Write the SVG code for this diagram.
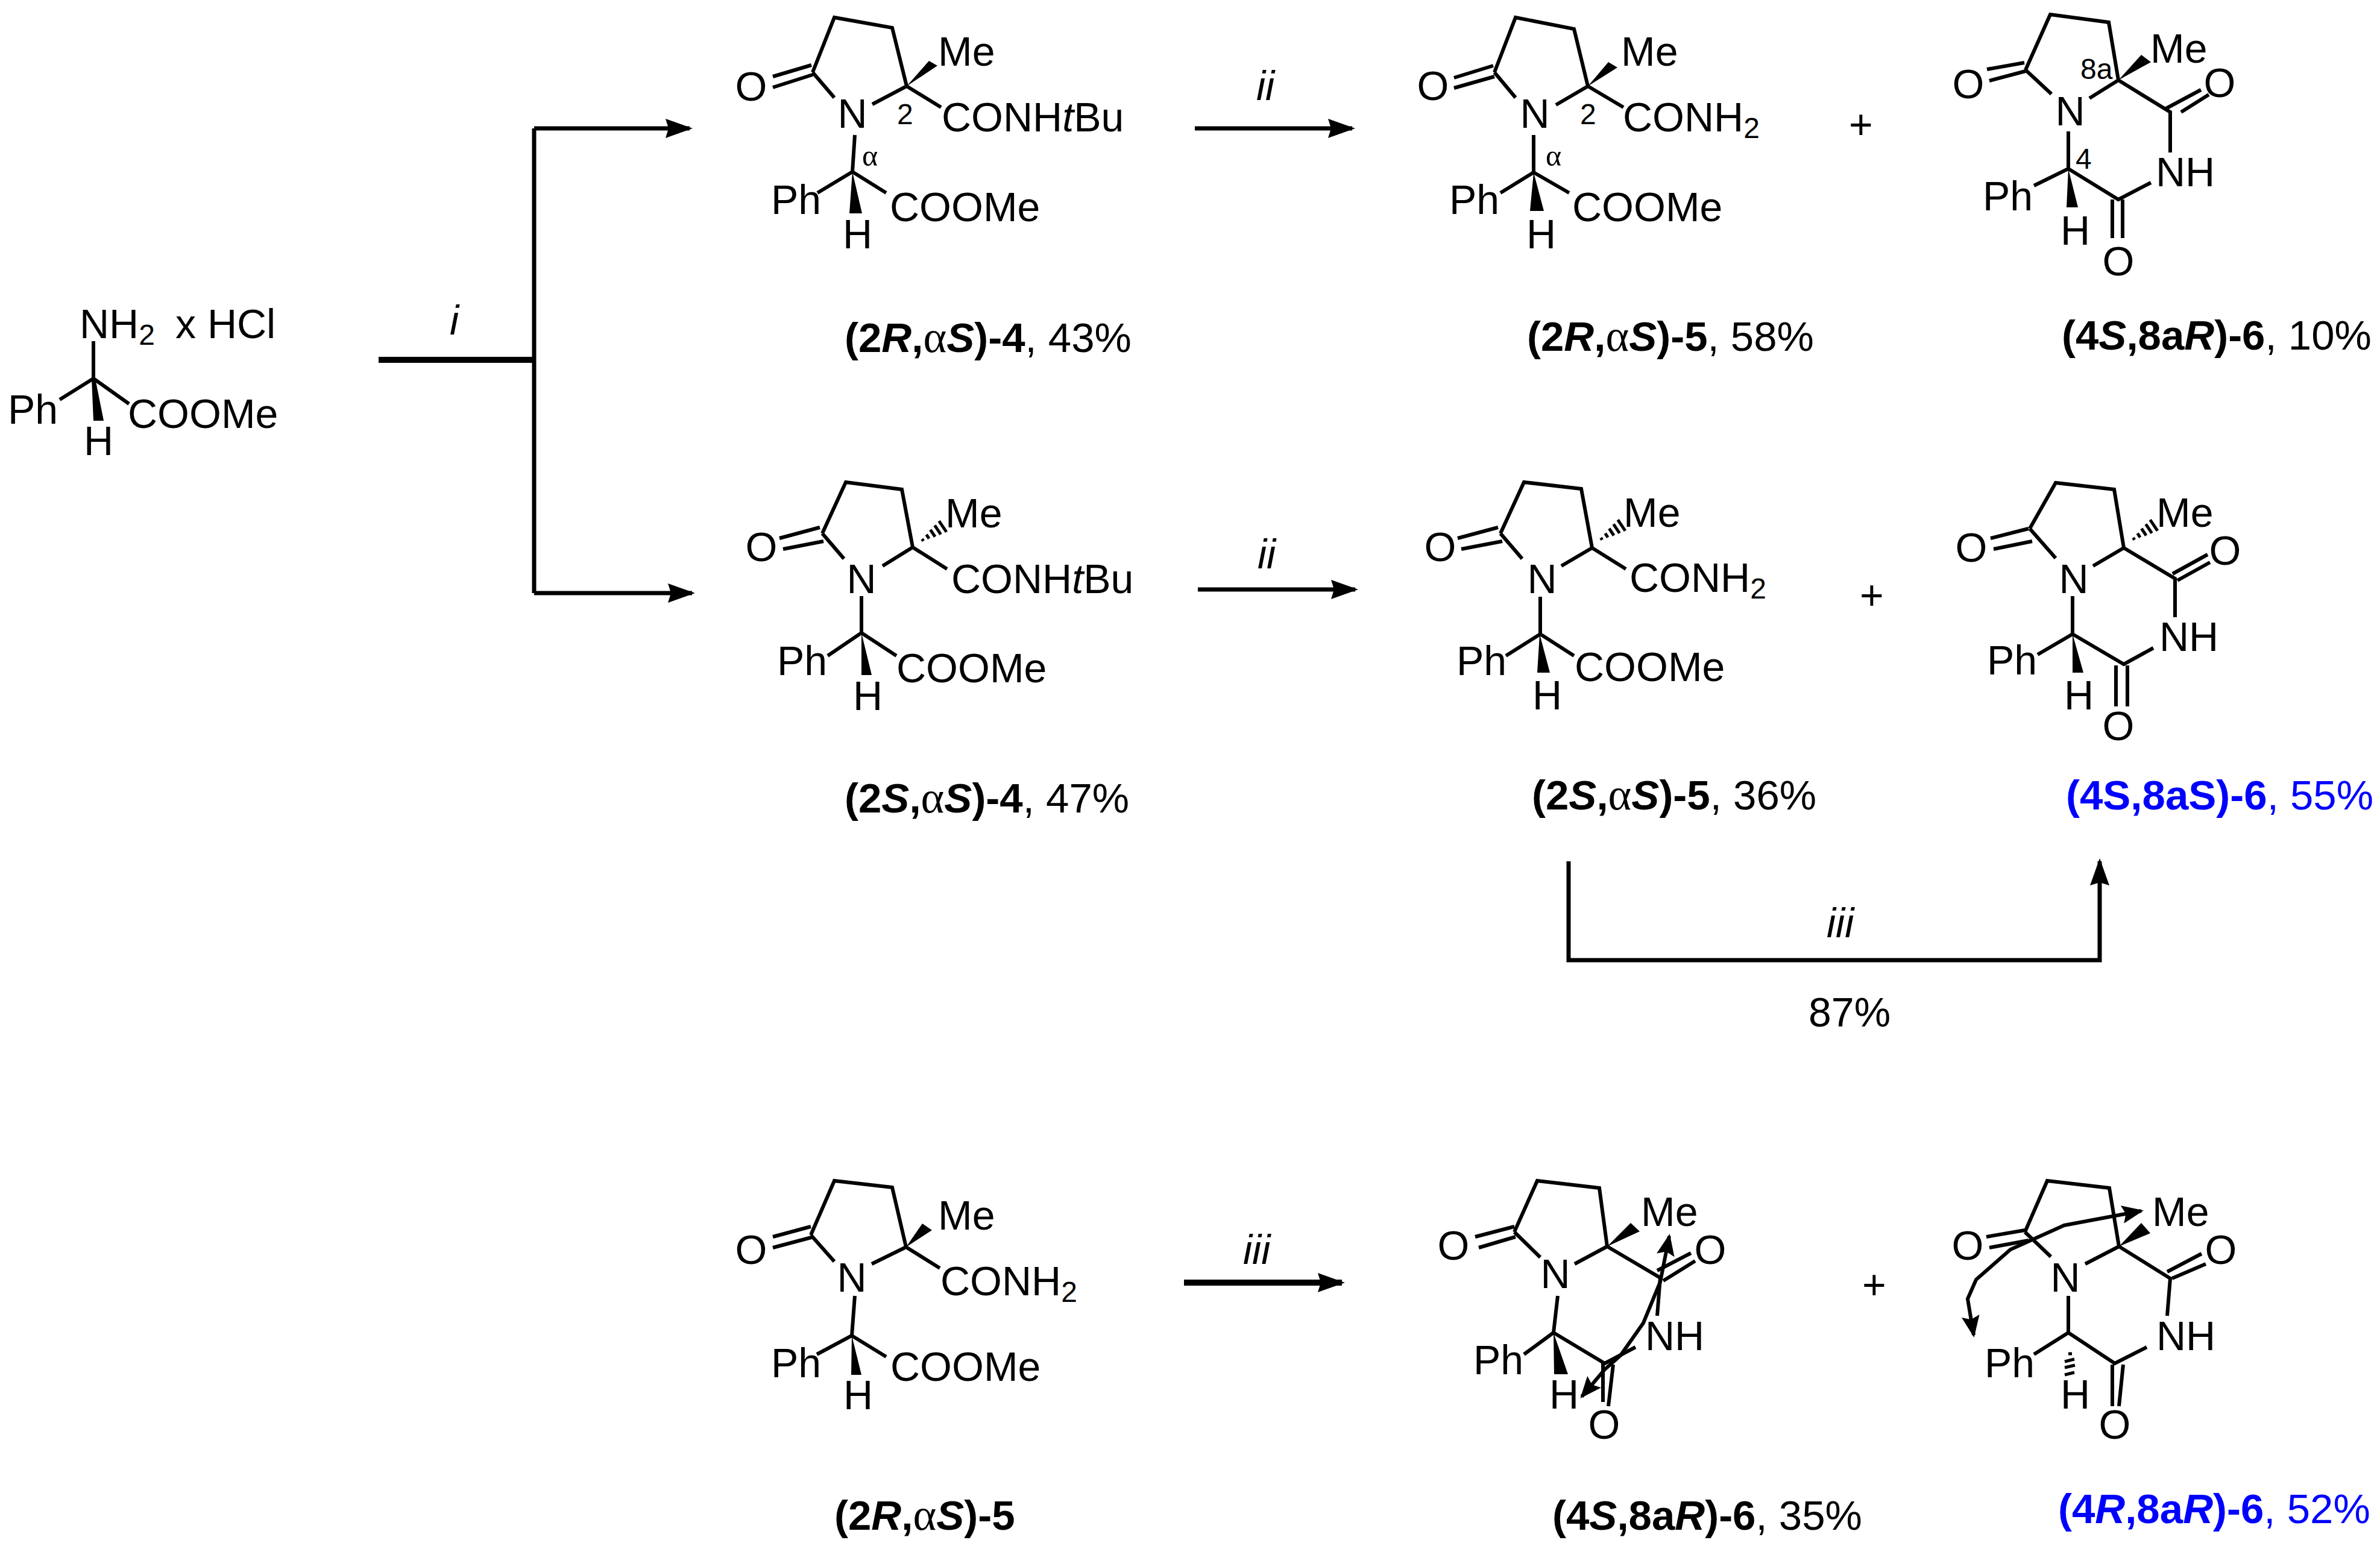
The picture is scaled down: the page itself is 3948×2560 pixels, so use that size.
<svg xmlns="http://www.w3.org/2000/svg" xmlns:xlink="http://www.w3.org/1999/xlink" width="3948" height="2560" viewBox="0 0 3948 2560">
<style>
text{font-family:"Liberation Sans",Arial,sans-serif;font-size:68px;fill:#000}
.b{stroke:#000;stroke-width:6;fill:none;stroke-linecap:butt;stroke-linejoin:miter}
.w{fill:#000;stroke:none}
.s{font-size:48px}
.g{font-family:"Liberation Serif",serif;font-size:50px}
.a{font-family:"Liberation Serif",serif;font-weight:normal;font-size:74px}
.l{font-size:69px}
.bd{font-weight:bold}
.it{font-style:italic}
.blue,.blue tspan{fill:#0000ff}
.r{stroke:#000;stroke-width:7;fill:none}
</style>
<defs>
<marker id="ah" viewBox="0 0 45 32" refX="40" refY="16" markerWidth="45" markerHeight="32" markerUnits="userSpaceOnUse" orient="auto-start-reverse"><path d="M0,0 L45,16 L0,32 L5,16z" fill="#000"/></marker>
<marker id="ac" viewBox="0 0 36 30" refX="32" refY="15" markerWidth="36" markerHeight="30" markerUnits="userSpaceOnUse" orient="auto-start-reverse"><path d="M0,0 L36,15 L0,30 L6,15z" fill="#000"/></marker>
<g id="h"><path class="b" d="M2,-2V2M12,-4V4M22,-7V7M32,-9V9M42,-11V11" style="stroke-width:5"/></g>
</defs>

<g id="connectors">
<path class="r" d="M628,597H886" style="stroke-width:10"/>
<path class="r" d="M886,213V984"/>
<path class="r" marker-end="url(#ah)" d="M886,213H1144"/>
<path class="r" marker-end="url(#ah)" d="M886,984H1148"/>
<path class="r" marker-end="url(#ah)" d="M1982,213H2243"/>
<path class="r" marker-end="url(#ah)" d="M1987,978H2248"/>
<path class="r" marker-end="url(#ah)" d="M1964,2128H2226" style="stroke-width:10"/>
<path class="r" marker-end="url(#ah)" d="M2602,1429V1593H3483V1429"/>
<text x="746" y="555" class="it">i</text>
<text x="2084" y="166" class="it">ii</text>
<text x="2086" y="943" class="it">ii</text>
<text x="2062" y="2097" class="it">iii</text>
<text x="3030" y="1555" class="it">iii</text>
<text x="3000" y="1703">87%</text>
<text x="3067" y="230">+</text>
<text x="3085" y="1011">+</text>
<text x="3089" y="2155">+</text>
</g>

<g id="glycine">
<path class="b" d="M155,566V628M155,628L99,663M155,628L214,670"/>
<path class="w" d="M152,628L155,698H172L158,628Z"/>
<text x="132" y="561">NH<tspan class="s" dy="11">2</tspan></text>
<text x="291" y="561">x HCl</text>
<text x="13" y="703">Ph</text>
<text x="212" y="710">COOMe</text>
<text x="139" y="755">H</text>
</g>

<g id="m-2R-aS-4">
<path class="b" d="M1348,120L1384,29L1480,46L1504,143L1447,173M1348,120L1384,162M1282,127L1346,108M1282,145L1348,124M1504,143L1561,178M1418,224L1414,285L1356,320M1414,285L1470,320"/>
<path class="w" d="M1504,143L1541,101L1555,109Z"/>
<path class="w" d="M1414,285L1409,354L1430,354Z"/>
<text x="1246" y="167" text-anchor="middle">O</text>
<text x="1414" y="212" text-anchor="middle">N</text>
<text x="1556" y="109">Me</text>
<text x="1488" y="206" class="s">2</text>
<text x="1562" y="218">CONH<tspan class="it">t</tspan>Bu</text>
<text x="1430" y="275" class="g">α</text>
<text x="1279" y="355">Ph</text>
<text x="1476" y="367">COOMe</text>
<text x="1398" y="412">H</text>
<text x="1401" y="584" class="l"><tspan class="bd">(2</tspan><tspan class="bd it">R</tspan><tspan class="bd">,</tspan><tspan class="a">α</tspan><tspan class="bd it">S</tspan><tspan class="bd">)-4</tspan>, 43%</text>
</g>

<g id="m-2R-aS-5">
<path class="b" d="M2479,120L2514,29L2611,48L2634,143L2581,174M2479,120L2514,162M2412,129L2477,109M2412,146L2479,127M2634,143L2693,178M2544,224V286L2489,320M2544,286L2603,320"/>
<path class="w" d="M2634,143L2668,103L2683,112Z"/>
<path class="w" d="M2544,286L2538,350L2561,350Z"/>
<text x="2377" y="166" text-anchor="middle">O</text>
<text x="2546" y="212" text-anchor="middle">N</text>
<text x="2689" y="109">Me</text>
<text x="2621" y="206" class="s">2</text>
<text x="2692" y="218">CONH<tspan class="s" dy="11">2</tspan></text>
<text x="2564" y="275" class="g">α</text>
<text x="2404" y="355">Ph</text>
<text x="2608" y="367">COOMe</text>
<text x="2532" y="412">H</text>
<text x="2533" y="582" class="l"><tspan class="bd">(2</tspan><tspan class="bd it">R</tspan><tspan class="bd">,</tspan><tspan class="a">α</tspan><tspan class="bd it">S</tspan><tspan class="bd">)-5</tspan>, 58%</text>
</g>

<g id="m-4S-8aR-6-a">
<path class="b" d="M3360,116L3401,24L3498,37L3514,133L3466,163M3360,116L3403,156M3296,115L3358,104M3300,134L3360,118M3514,133L3600,186V253M3593,180L3651,149M3618,186L3664,157M3431,218V280L3374,308M3431,280L3514,331L3568,303M3504,331V395M3521,331V395"/>
<path class="w" d="M3514,133L3552,91L3568,103Z"/>
<path class="w" d="M3431,280L3428,344L3447,344Z"/>
<text x="3265" y="163" text-anchor="middle">O</text>
<text x="3434" y="208" text-anchor="middle">N</text>
<text x="3567" y="104">Me</text>
<text x="3451" y="131" class="s">8a</text>
<text x="3682" y="161" text-anchor="middle">O</text>
<text x="3576" y="309">NH</text>
<text x="3443" y="280" class="s">4</text>
<text x="3289" y="349">Ph</text>
<text x="3418" y="406">H</text>
<text x="3514" y="457" text-anchor="middle">O</text>
<text x="3420" y="580" class="l"><tspan class="bd">(4</tspan><tspan class="bd it">S</tspan><tspan class="bd">,8a</tspan><tspan class="bd it">R</tspan><tspan class="bd">)-6</tspan>, 10%</text>
</g>

<g id="m-2S-aS-4">
<path class="b" d="M1364,885L1403,800L1496,812L1514,908L1464,939M1364,885L1400,927M1293,893L1360,875M1299,911L1366,898M1514,908L1571,944M1429,989V1050L1373,1088M1429,1050L1487,1088"/>
<use href="#h" xlink:href="#h" transform="translate(1529,897) rotate(-34)"/>
<path class="w" d="M1429,1050L1429,1120L1446,1120Z"/>
<text x="1263" y="931" text-anchor="middle">O</text>
<text x="1429" y="984" text-anchor="middle">N</text>
<text x="1568" y="875">Me</text>
<text x="1578" y="984">CONH<tspan class="it">t</tspan>Bu</text>
<text x="1289" y="1120">Ph</text>
<text x="1487" y="1132">COOMe</text>
<text x="1415" y="1178">H</text>
<text x="1401" y="1348" class="l"><tspan class="bd">(2</tspan><tspan class="bd it">S</tspan><tspan class="bd">,</tspan><tspan class="a">α</tspan><tspan class="bd it">S</tspan><tspan class="bd">)-4</tspan>, 47%</text>
</g>

<g id="m-2S-aS-5">
<path class="b" d="M2489,885L2528,800L2623,811L2641,909L2590,939M2489,885L2525,927M2418,893L2485,875M2424,911L2492,898M2641,909L2697,944M2555,990V1052L2498,1088M2555,1052L2611,1088"/>
<use href="#h" xlink:href="#h" transform="translate(2655,895) rotate(-34)"/>
<path class="w" d="M2554,1052L2550,1116L2571,1116Z"/>
<text x="2389" y="931" text-anchor="middle">O</text>
<text x="2558" y="984" text-anchor="middle">N</text>
<text x="2693" y="874">Me</text>
<text x="2703" y="982">CONH<tspan class="s" dy="11">2</tspan></text>
<text x="2416" y="1120">Ph</text>
<text x="2612" y="1130">COOMe</text>
<text x="2542" y="1177">H</text>
<text x="2541" y="1343" class="l"><tspan class="bd">(2</tspan><tspan class="bd it">S</tspan><tspan class="bd">,</tspan><tspan class="a">α</tspan><tspan class="bd it">S</tspan><tspan class="bd">)-5</tspan>, 36%</text>
</g>

<g id="m-4S-8aS-6">
<path class="b" d="M3367,877L3410,801L3507,812L3523,909L3472,939M3367,877L3410,926M3302,893L3365,877M3307,911L3371,898M3523,909L3608,960V1024M3604,952L3662,920M3612,963L3666,933M3438,989V1052L3380,1086M3438,1052L3523,1102L3572,1075M3510,1104V1172M3529,1104V1172"/>
<use href="#h" xlink:href="#h" transform="translate(3538,895) rotate(-34)"/>
<path class="w" d="M3438,1052L3438,1116L3456,1116Z"/>
<text x="3270" y="932" text-anchor="middle">O</text>
<text x="3440" y="984" text-anchor="middle">N</text>
<text x="3577" y="874">Me</text>
<text x="3691" y="937" text-anchor="middle">O</text>
<text x="3582" y="1080">NH</text>
<text x="3296" y="1119">Ph</text>
<text x="3424" y="1177">H</text>
<text x="3514" y="1228" text-anchor="middle">O</text>
<text x="3427" y="1343" class="l blue"><tspan class="bd">(4S,8aS)-6</tspan>, 55%</text>
</g>

<g id="m-2R-aS-5b">
<path class="b" d="M1345,2049L1384,1959L1480,1970L1503,2069L1446,2097M1345,2049L1384,2093M1282,2052L1345,2035M1282,2070L1346,2053M1503,2069L1559,2104M1418,2150L1413,2216L1355,2247M1413,2216L1470,2251"/>
<path class="w" d="M1503,2069L1530,2030L1546,2041Z"/>
<path class="w" d="M1413,2216L1412,2281L1429,2281Z"/>
<text x="1246" y="2097" text-anchor="middle">O</text>
<text x="1413" y="2143" text-anchor="middle">N</text>
<text x="1556" y="2040">Me</text>
<text x="1560" y="2149">CONH<tspan class="s" dy="11">2</tspan></text>
<text x="1279" y="2285">Ph</text>
<text x="1477" y="2291">COOMe</text>
<text x="1399" y="2338">H</text>
<text x="1384" y="2538" class="l"><tspan class="bd">(2</tspan><tspan class="bd it">R</tspan><tspan class="bd">,</tspan><tspan class="a">α</tspan><tspan class="bd it">S</tspan><tspan class="bd">)-5</tspan></text>
</g>

<g id="m-4S-8aR-6-b">
<path class="b" d="M2512,2044L2550,1959L2653,1971L2666,2068L2612,2097M2512,2044L2555,2086M2447,2052L2512,2035M2453,2070L2514,2052M2666,2068L2754,2120L2749,2183M2749,2108L2805,2079M2759,2125L2812,2092M2584,2150L2577,2211L2528,2247M2577,2211L2662,2262L2713,2235M2659,2262V2326M2676,2264L2668,2333"/>
<path class="w" d="M2666,2068L2705,2029L2720,2043Z"/>
<path class="w" d="M2577,2211L2578,2280L2601,2280Z"/>
<text x="2411" y="2090" text-anchor="middle">O</text>
<text x="2580" y="2137" text-anchor="middle">N</text>
<text x="2722" y="2034">Me</text>
<text x="2837" y="2097" text-anchor="middle">O</text>
<text x="2729" y="2240">NH</text>
<text x="2444" y="2280">Ph</text>
<text x="2570" y="2337">H</text>
<text x="2661" y="2387" text-anchor="middle">O</text>
<text x="2575" y="2538" class="l"><tspan class="bd">(4</tspan><tspan class="bd it">S</tspan><tspan class="bd">,8a</tspan><tspan class="bd it">R</tspan><tspan class="bd">)-6</tspan>, 35%</text>
</g>

<g id="m-4R-8aR-6">
<path class="b" d="M3359,2044L3396,1959L3499,1971L3515,2068L3459,2097M3359,2044L3402,2085M3295,2052L3359,2041M3300,2070L3365,2058M3515,2068L3600,2121L3595,2183M3595,2110L3652,2080M3603,2121L3659,2097M3431,2150V2211L3374,2247M3431,2211L3508,2262L3561,2235M3504,2264V2333M3522,2264L3515,2333"/>
<path class="w" d="M3515,2068L3552,2029L3567,2046Z"/>
<path class="b" style="stroke-width:5" d="M3431,2246H3437M3425,2259L3441,2255M3425,2269L3442,2265M3425,2281L3441,2277"/>
<text x="3264" y="2090" text-anchor="middle">O</text>
<text x="3426" y="2143" text-anchor="middle">N</text>
<text x="3570" y="2034">Me</text>
<text x="3684" y="2097" text-anchor="middle">O</text>
<text x="3577" y="2240">NH</text>
<text x="3292" y="2285">Ph</text>
<text x="3418" y="2337">H</text>
<text x="3508" y="2387" text-anchor="middle">O</text>
<text x="3414" y="2527" class="l blue"><tspan class="bd">(4</tspan><tspan class="bd it">R</tspan><tspan class="bd">,8a</tspan><tspan class="bd it">R</tspan><tspan class="bd">)-6</tspan>, 52%</text>
</g>

<g id="curved-arrows">
<path class="r" style="stroke-width:6" marker-start="url(#ac)" marker-end="url(#ac)" d="M2624,2317L2662,2272L2688,2249L2726,2195L2754,2127L2769,2051"/>
<path class="r" style="stroke-width:6" marker-start="url(#ac)" marker-end="url(#ac)" d="M3274,2215L3264,2155L3278,2123L3335,2073L3424,2033L3552,2009"/>
</g>
</svg>
